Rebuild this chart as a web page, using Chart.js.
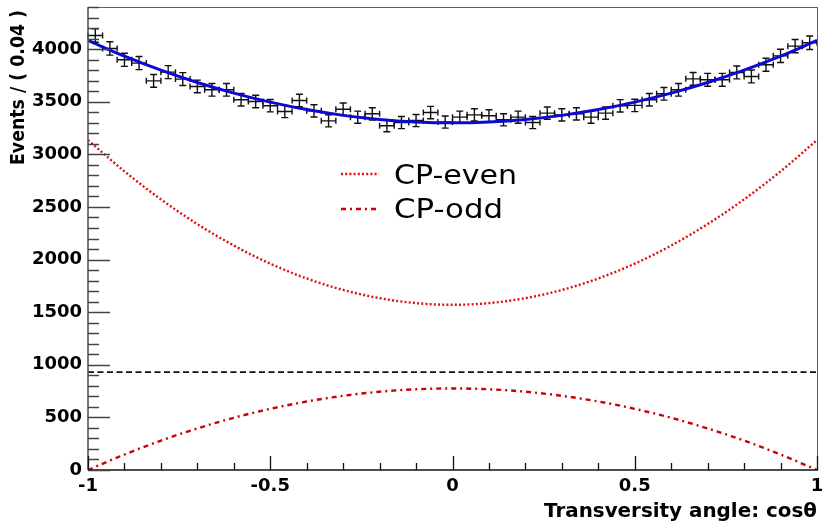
<!DOCTYPE html>
<html>
<head>
<meta charset="utf-8">
<script src="https://cdn.jsdelivr.net/npm/chart.js@4.4.1/dist/chart.umd.min.js"></script>
<style>
  html, body { margin: 0; padding: 0; background: #fff; }
  #wrap { width: 822px; height: 523px; }
</style>
</head>
<body>
<div id="wrap"><canvas id="chart" width="822" height="523"></canvas></div>
<script>
// binned data (bin width 0.04)
const binCenters = [-0.98, -0.94, -0.90, -0.86, -0.82, -0.78, -0.74, -0.70, -0.66, -0.62,
  -0.58, -0.54, -0.50, -0.46, -0.42, -0.38, -0.34, -0.30, -0.26, -0.22,
  -0.18, -0.14, -0.10, -0.06, -0.02, 0.02, 0.06, 0.10, 0.14, 0.18,
  0.22, 0.26, 0.30, 0.34, 0.38, 0.42, 0.46, 0.50, 0.54, 0.58,
  0.62, 0.66, 0.70, 0.74, 0.78, 0.82, 0.86, 0.90, 0.94, 0.98];
const counts = [4129, 4006, 3898, 3867, 3698, 3781, 3715, 3645, 3613, 3613,
  3518, 3502, 3462, 3407, 3511, 3413, 3318, 3429, 3353, 3385,
  3271, 3302, 3321, 3397, 3306, 3353, 3375, 3366, 3328, 3353,
  3302, 3391, 3375, 3385, 3353, 3391, 3461, 3465, 3518, 3575,
  3613, 3717, 3708, 3708, 3778, 3740, 3851, 3936, 4028, 4060];
const binHalfWidth = 0.02;

// fitted curves, read every 0.1
const curveX = [-1, -0.9, -0.8, -0.7, -0.6, -0.5, -0.4, -0.3, -0.2, -0.1, 0,
  0.1, 0.2, 0.3, 0.4, 0.5, 0.6, 0.7, 0.8, 0.9, 1];
const fitTotal = [4082, 3933, 3800, 3683, 3582, 3496, 3425, 3370, 3331, 3308, 3300,
  3308, 3331, 3370, 3425, 3496, 3582, 3683, 3800, 3933, 4082];
const cpEven = [3135, 2838, 2572, 2337, 2133, 1961, 1820, 1711, 1633, 1586, 1570,
  1586, 1633, 1711, 1820, 1961, 2133, 2337, 2572, 2838, 3135];
const cpOdd = [0, 147, 279, 395, 496, 581, 651, 705, 744, 767, 775,
  767, 744, 705, 651, 581, 496, 395, 279, 147, 0];
const bkgX = [-1, 1];
const bkgLevel = [930, 930];

const xLabels = { "-1": "-1", "-0.5": "-0.5", "0": "0", "0.5": "0.5", "1": "1" };
const legendItems = ["CP-even", "CP-odd"];

const pts = (xs, ys) => xs.map((x, i) => ({ x: x, y: ys[i] }));

// draw a text squeezed/stretched to a given width
function fitText(ctx, text, x, y, w, font, align, rot) {
  ctx.save();
  ctx.font = font;
  const m = ctx.measureText(text).width;
  ctx.translate(x, y);
  if (rot) ctx.rotate(rot);
  ctx.scale(w / m, 1);
  ctx.textAlign = align;
  ctx.textBaseline = "alphabetic";
  ctx.fillStyle = "#000";
  ctx.fillText(text, 0, 0);
  ctx.restore();
}

const rootStyle = {
  id: "rootStyle",
  beforeDatasetsDraw(chart) {
    // error bars of the data points
    const ctx = chart.ctx;
    const xs = chart.scales.x, ys = chart.scales.y;
    const meta = chart.getDatasetMeta(0);
    ctx.save();
    ctx.strokeStyle = "#111";
    ctx.lineWidth = 1.4;
    meta.data.forEach((el, i) => {
      const err = Math.sqrt(counts[i]);
      const x0 = xs.getPixelForValue(binCenters[i] - binHalfWidth);
      const x1 = xs.getPixelForValue(binCenters[i] + binHalfWidth);
      const y0 = ys.getPixelForValue(counts[i] - err);
      const y1 = ys.getPixelForValue(counts[i] + err);
      ctx.beginPath();
      ctx.moveTo(x0, el.y); ctx.lineTo(x1, el.y);
      ctx.moveTo(el.x, y0); ctx.lineTo(el.x, y1);
      ctx.moveTo(el.x - 3.5, y0); ctx.lineTo(el.x + 3.5, y0);
      ctx.moveTo(el.x - 3.5, y1); ctx.lineTo(el.x + 3.5, y1);
      ctx.moveTo(x0, el.y - 3); ctx.lineTo(x0, el.y + 3);
      ctx.moveTo(x1, el.y - 3); ctx.lineTo(x1, el.y + 3);
      ctx.stroke();
    });
    ctx.restore();
  },
  afterDraw(chart) {
    const ctx = chart.ctx;
    const a = chart.chartArea;
    const xs = chart.scales.x, ys = chart.scales.y;
    ctx.save();

    // frame
    ctx.lineWidth = 1;
    ctx.strokeStyle = "#6b5a55";
    ctx.beginPath();
    ctx.moveTo(a.left, a.top + 0.5); ctx.lineTo(a.right + 1, a.top + 0.5);
    ctx.moveTo(a.right + 0.5, a.top); ctx.lineTo(a.right + 0.5, a.bottom);
    ctx.stroke();
    ctx.lineWidth = 1.6;
    ctx.strokeStyle = "#555";
    ctx.beginPath();
    ctx.moveTo(a.left, a.top); ctx.lineTo(a.left, a.bottom);
    ctx.stroke();
    ctx.strokeStyle = "#111";
    ctx.beginPath();
    ctx.moveTo(a.left, a.bottom); ctx.lineTo(a.right + 1, a.bottom);
    ctx.stroke();

    // inward tick marks
    ctx.lineWidth = 1.3;
    ctx.strokeStyle = "#444";
    ctx.beginPath();
    ys.ticks.forEach(t => {
      const y = Math.round(ys.getPixelForValue(t.value)) + 0.5;
      const len = Math.round(t.value) % 500 === 0 ? 22 : 11;
      ctx.moveTo(a.left, y); ctx.lineTo(a.left + len, y);
    });
    ctx.stroke();
    ctx.strokeStyle = "#111";
    ctx.beginPath();
    xs.ticks.forEach(t => {
      const x = Math.round(xs.getPixelForValue(t.value)) + 0.5;
      const major = Math.abs(t.value * 2 - Math.round(t.value * 2)) < 1e-6;
      ctx.moveTo(x, a.bottom); ctx.lineTo(x, a.bottom - (major ? 14 : 7));
    });
    ctx.stroke();

    // axis titles
    fitText(ctx, "Transversity angle: cos\u03B8", 817, 517, 273, "bold 20px 'DejaVu Sans'", "right");
    fitText(ctx, "Events / ( 0.04 )", 24, 10, 155, "bold 19px 'DejaVu Sans'", "right", -Math.PI / 2);

    // legend
    const ds = chart.data.datasets;
    const rows = [
      { text: legendItems[0], ds: ds[2], lineY: 174, base: 184, w: 123 },
      { text: legendItems[1], ds: ds[3], lineY: 209, base: 218, w: 109 }
    ];
    rows.forEach(r => {
      ctx.save();
      ctx.strokeStyle = r.ds.borderColor;
      ctx.lineWidth = r.ds.borderWidth;
      ctx.setLineDash(r.ds.borderDash);
      ctx.beginPath();
      ctx.moveTo(341, r.lineY); ctx.lineTo(379, r.lineY);
      ctx.stroke();
      ctx.restore();
      fitText(ctx, r.text, 394, r.base, r.w, "26px 'DejaVu Sans'", "left");
    });
    ctx.restore();
  }
};

new Chart(document.getElementById("chart"), {
  type: "line",
  data: {
    datasets: [
      {
        label: "data",
        type: "scatter",
        data: pts(binCenters, counts),
        pointRadius: 0,
        showLine: false
      },
      {
        label: "fit",
        data: pts(curveX, fitTotal),
        borderColor: "#0a0ad2",
        borderWidth: 3,
        pointRadius: 0,
        cubicInterpolationMode: "monotone"
      },
      {
        label: "CP-even",
        data: pts(curveX, cpEven),
        borderColor: "#e01010",
        borderWidth: 2.4,
        borderDash: [2, 2.2],
        pointRadius: 0,
        cubicInterpolationMode: "monotone"
      },
      {
        label: "CP-odd",
        data: pts(curveX, cpOdd),
        borderColor: "#cc0000",
        borderWidth: 2.4,
        borderDash: [5, 4, 2, 4],
        pointRadius: 0,
        cubicInterpolationMode: "monotone"
      },
      {
        label: "bkg",
        data: pts(bkgX, bkgLevel),
        borderColor: "#111",
        borderWidth: 1.8,
        borderDash: [6, 3.5],
        pointRadius: 0
      }
    ]
  },
  options: {
    responsive: false,
    animation: false,
    events: [],
    layout: { padding: { top: 7, right: 5, left: 0, bottom: 0 } },
    plugins: { legend: { display: false }, tooltip: { enabled: false } },
    scales: {
      x: {
        type: "linear",
        min: -1,
        max: 1,
        grid: { display: false, drawTicks: false },
        border: { display: false },
        afterFit: s => { s.height = 53; s.paddingLeft = 0; s.paddingRight = 0; },
        ticks: {
          stepSize: 0.1,
          autoSkip: false,
          maxRotation: 0,
          padding: 6,
          color: "#000",
          font: { family: "'DejaVu Sans'", weight: "bold", size: 18 },
          callback: v => {
            const k = String(Math.round(v * 10) / 10);
            return xLabels[k] !== undefined && Math.abs(v * 2 - Math.round(v * 2)) < 1e-6 ? xLabels[k] : "";
          }
        }
      },
      y: {
        min: 0,
        max: 4400,
        grid: { display: false, drawTicks: false },
        border: { display: false },
        afterFit: s => { s.width = 88; s.paddingTop = 0; s.paddingBottom = 0; },
        ticks: {
          stepSize: 100,
          autoSkip: false,
          padding: 6,
          color: "#000",
          font: { family: "'DejaVu Sans'", weight: "bold", size: 18 },
          callback: v => (Math.round(v) % 500 === 0 ? String(Math.round(v)) : "")
        }
      }
    }
  },
  plugins: [rootStyle]
});
</script>
</body>
</html>
